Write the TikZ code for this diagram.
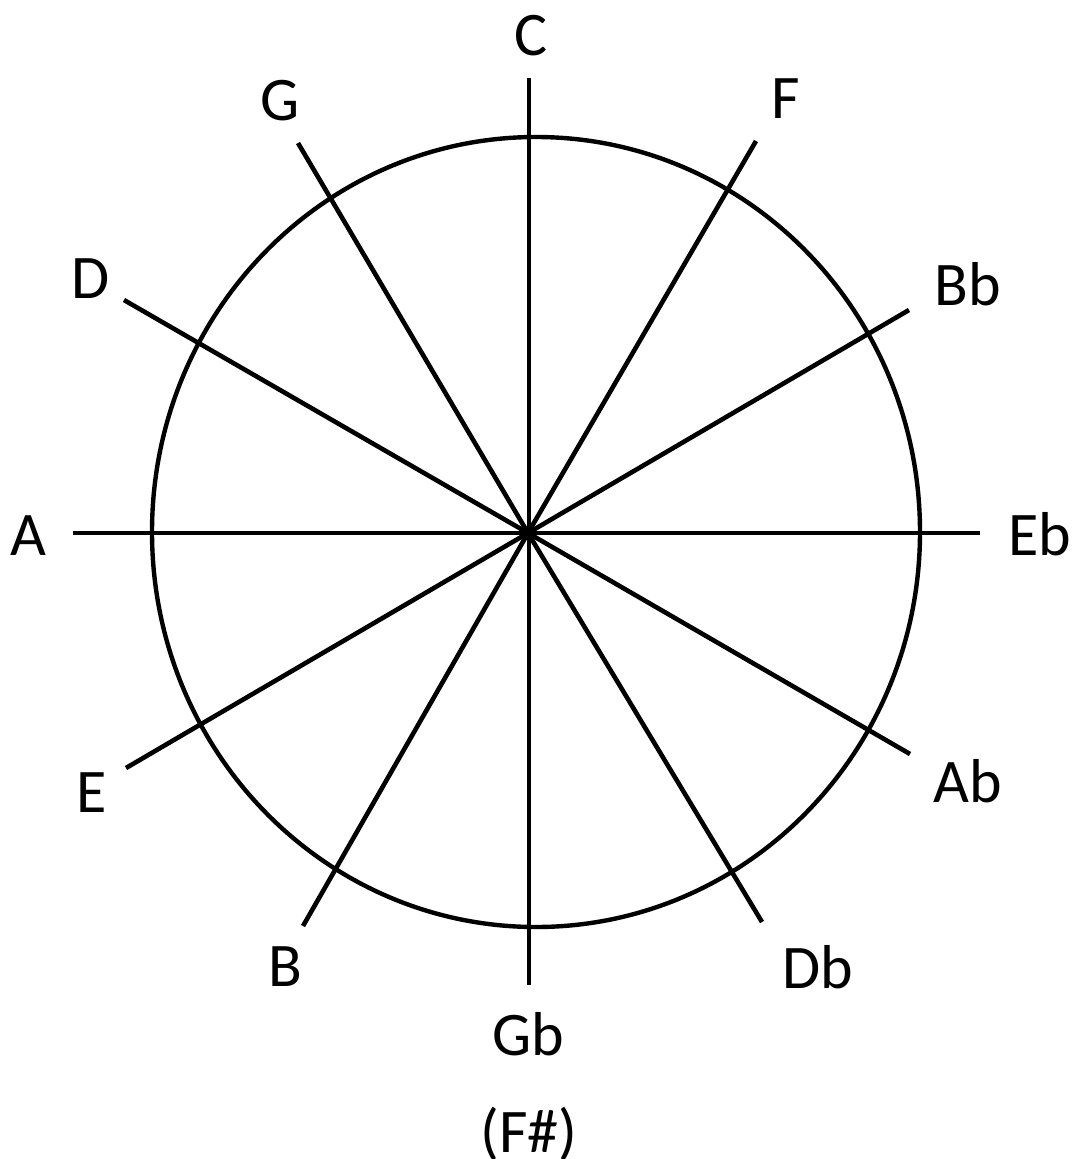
\documentclass[tikz,border=0pt]{standalone}
\usepackage{fontspec}
\setmainfont{Carlito}
\begin{document}
\begin{tikzpicture}[x=1pt,y=-1pt,
  spoke/.style={line width=4.6pt},
  rim/.style={line width=4.4pt},
  lbl/.style={font=\fontsize{62}{70}\selectfont, anchor=base, inner sep=0pt}]
\useasboundingbox (0,0) rectangle (1073,1159);
\coordinate (O) at (528,533);
\coordinate (eC) at (529,78);
\coordinate (eGb) at (529,985);
\coordinate (eA) at (73,533);
\coordinate (eEb) at (980,533);
\coordinate (eG) at (298,143);
\coordinate (eDb) at (762,922);
\coordinate (eF) at (756,141);
\coordinate (eB) at (303,926);
\coordinate (eD) at (124,300);
\coordinate (eAb) at (910,754);
\coordinate (eBb) at (909,310);
\coordinate (eE) at (126,768);
\draw[rim] (536,532) ellipse [x radius=384pt, y radius=395pt];
\draw[spoke] (eC) -- (eGb);
\draw[spoke] (eA) -- (eEb);
\draw[spoke] (eG) -- (O) -- (eDb);
\draw[spoke] (eF) -- (O) -- (eB);
\draw[spoke] (eD) -- (O) -- (eAb);
\draw[spoke] (eBb) -- (O) -- (eE);
\node[lbl] (lC) at (531,55) {C};
\node[lbl] (lG) at (280,120) {G};
\node[lbl] (lF) at (786,118) {F};
\node[lbl] (lD) at (91,298) {D};
\node[lbl] (lBb) at (968,305) {Bb};
\node[lbl] (lA) at (28,555) {A};
\node[lbl] (lEb) at (1040,555) {Eb};
\node[lbl] (lE) at (92,812) {E};
\node[lbl] (lAb) at (968,802) {Ab};
\node[lbl] (lB) at (285,986) {B};
\node[lbl] (lGb) at (528,1055) {Gb};
\node[lbl] (lDb) at (818,988) {Db};
\node[lbl] (lFs) at (529,1152) {(F\#)};
\end{tikzpicture}
\end{document}
